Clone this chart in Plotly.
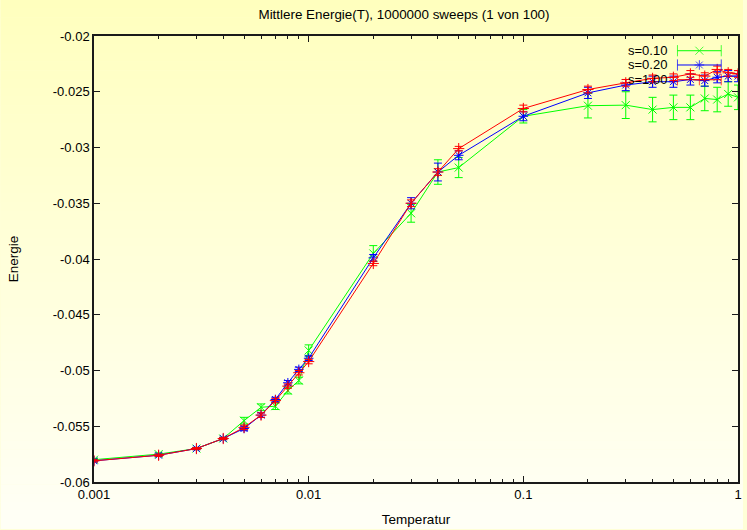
import plotly.graph_objects as go

# ---- data ----
T = [0.001, 0.002, 0.003, 0.004, 0.005, 0.006, 0.007, 0.008, 0.009, 0.01,
     0.02, 0.03, 0.04, 0.05, 0.1, 0.2, 0.3, 0.4, 0.5, 0.6, 0.7, 0.8, 0.9, 1.0]

E_s010 = [-0.0580, -0.0575, -0.0570, -0.0561, -0.0545, -0.0533, -0.0532, -0.0518, -0.0509, -0.0482,
          -0.0395, -0.0359, -0.0322, -0.0318, -0.0272, -0.02625, -0.0262, -0.0266, -0.0264, -0.0264,
          -0.0256, -0.0257, -0.0252, -0.0255]
err_s010 = [0.0001, 0.0001, 0.0001, 0.0001, 0.0003, 0.0003, 0.0003, 0.0003, 0.0003, 0.0005,
            0.0007, 0.0008, 0.0011, 0.0009, 0.0006, 0.0011, 0.0012, 0.0011, 0.0011, 0.0011,
            0.0011, 0.0011, 0.0011, 0.0011]

E_s020 = [-0.0581, -0.0576, -0.0570, -0.0561, -0.0552, -0.0540, -0.0526, -0.0511, -0.0499, -0.0489,
          -0.0399, -0.0350, -0.0322, -0.0307, -0.0272, -0.0251, -0.0244, -0.0241, -0.0241, -0.0239,
          -0.0240, -0.0237, -0.0236, -0.0236]
err_s020 = [0.0001, 0.0001, 0.0001, 0.0001, 0.0002, 0.0002, 0.0002, 0.0002, 0.0002, 0.0002,
            0.0003, 0.0005, 0.0008, 0.0004, 0.0004, 0.0005, 0.0005, 0.0005, 0.0005, 0.0005,
            0.0005, 0.0005, 0.0005, 0.0005]

E_s100 = [-0.0581, -0.0576, -0.0570, -0.0561, -0.0551, -0.0540, -0.0527, -0.0514, -0.0502, -0.0492,
          -0.0404, -0.0350, -0.0322, -0.0301, -0.0265, -0.0248, -0.0242, -0.0238, -0.0237, -0.0234,
          -0.0236, -0.0230, -0.0233, -0.0234]
err_s100 = [0.0001, 0.0001, 0.0001, 0.0001, 0.0002, 0.0002, 0.0002, 0.0002, 0.0002, 0.0002,
            0.0002, 0.0003, 0.0003, 0.0002, 0.0003, 0.0003, 0.0003, 0.0003, 0.0003, 0.0003,
            0.0003, 0.0003, 0.0003, 0.0003]

series_names = ["s=0.10", "s=0.20", "s=1.00"]
x_tickvals = [0.001, 0.01, 0.1, 1]
x_ticktext = ["0.001", "0.01", "0.1", "1"]
y_tickvals = [-0.06, -0.055, -0.05, -0.045, -0.04, -0.035, -0.03, -0.025, -0.02]
y_ticktext = ["-0.06", "-0.055", "-0.05", "-0.045", "-0.04", "-0.035", "-0.03", "-0.025", "-0.02"]
x_minor_tickvals = [m * 10.0 ** e for e in (-3, -2, -1) for m in range(2, 10)]

FONT = "Liberation Sans, Arial, sans-serif"
W, H = 747, 530
ML, MR, MT, MB = 94, 5, 36, 47
PW, PH = W - ML - MR, H - MT - MB

styles = [
    dict(color="#00ff00", symbol="x-thin"),
    dict(color="#0000ff", symbol="asterisk"),
    dict(color="#ff0000", symbol="cross-thin"),
]
values = [(E_s010, err_s010), (E_s020, err_s020), (E_s100, err_s100)]

fig = go.Figure()
for name, (vals, errs), st in zip(series_names, values, styles):
    fig.add_trace(go.Scatter(
        x=T, y=vals, name=name, mode="lines+markers",
        line=dict(color=st["color"], width=1),
        marker=dict(symbol=st["symbol"], size=8, color=st["color"],
                    line=dict(color=st["color"], width=1)),
        error_y=dict(type="data", array=errs, visible=True,
                     color=st["color"], thickness=1, width=4),
        showlegend=False,
    ))

# custom gnuplot-style key (text left, sample right) on an overlay axis
key_y = [0.967, 0.935, 0.902]
for name, st, ky in zip(series_names, styles, key_y):
    fig.add_trace(go.Scatter(
        x=[0.906, 0.940, 0.974], y=[ky, ky, ky], mode="lines+markers",
        xaxis="x2", yaxis="y2", showlegend=False, hoverinfo="skip",
        line=dict(color=st["color"], width=1),
        marker=dict(symbol=["line-ns", st["symbol"], "line-ns"], size=[8, 8, 8],
                    color=st["color"], line=dict(color=st["color"], width=1)),
    ))
    fig.add_annotation(text=name, x=0.8935, y=ky, xref="paper",
                       yref="paper", xanchor="right", yanchor="middle", showarrow=False,
                       font=dict(family=FONT, size=13, color="black"))

# vertical gradient background
shapes = []
nb = 60
for i in range(nb):
    y0px = i * H / nb
    y1px = (i + 1) * H / nb
    f = (i + 0.5) / nb
    b = int(round(190 + (246 - 190) * f))
    shapes.append(dict(type="rect", xref="paper", yref="paper", layer="below",
                       x0=-ML / PW, x1=(W - ML) / PW,
                       y0=(H - MB - y1px) / PH, y1=(H - MB - y0px) / PH + 0.001,
                       fillcolor=f"rgb(255,255,{b})", line=dict(width=0)))

axis_common = dict(showgrid=False, zeroline=False, ticks="inside", mirror="ticks",
                   showline=True, linecolor="#1a1a1a", linewidth=1.5, tickcolor="#1a1a1a",
                   ticklen=6, tickwidth=1,
                   tickfont=dict(family=FONT, size=13, color="black"))

fig.update_layout(
    width=W, height=H,
    margin=dict(l=ML, r=MR, t=MT, b=MB),
    paper_bgcolor="rgb(255,255,215)",
    plot_bgcolor="rgba(0,0,0,0)",
    shapes=shapes,
    title=dict(text="Mittlere Energie(T), 1000000 sweeps (1 von 100)",
               x=404 / W, xanchor="center", y=1 - 14 / H, yanchor="middle",
               font=dict(family=FONT, size=13.4, color="black")),
    xaxis=dict(type="log", range=[-3, 0], tickvals=x_tickvals, ticktext=x_ticktext,
               title=dict(text="Temperatur", font=dict(family=FONT, size=13.5, color="black"),
                          standoff=13),
               minor=dict(ticks="inside", ticklen=3, tickcolor="#1a1a1a", tickmode="array",
                          tickvals=x_minor_tickvals, showgrid=False),
               **axis_common),
    yaxis=dict(range=[-0.06, -0.02], tickvals=y_tickvals, ticktext=y_ticktext,
               title=dict(text="Energie", font=dict(family=FONT, size=13.5, color="black"),
                          standoff=31),
               **axis_common),
    xaxis2=dict(overlaying="x", range=[0, 1], visible=False, fixedrange=True),
    yaxis2=dict(overlaying="y", range=[0, 1], visible=False, fixedrange=True),
    showlegend=False,
)

fig.write_html("out.html", config={"displayModeBar": False},
               post_script="document.body.style.margin='0px';document.body.style.overflow='hidden';")
